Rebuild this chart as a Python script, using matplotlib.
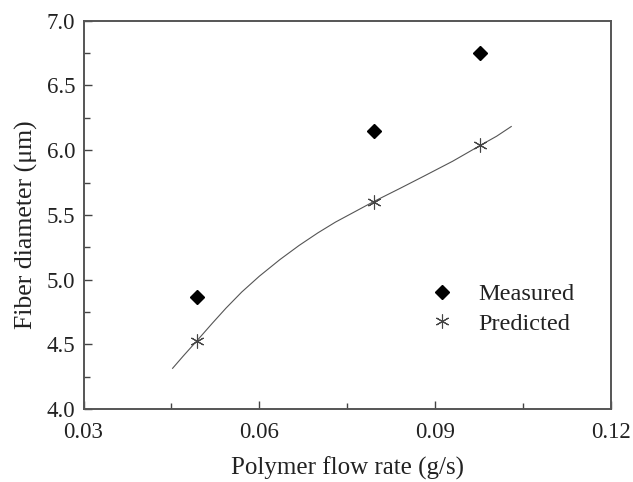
import numpy as np
import matplotlib.pyplot as plt
from matplotlib.ticker import MultipleLocator

plt.rcParams['font.family'] = ['Liberation Serif', 'DejaVu Serif']

# data
flow_rate = [0.0493, 0.0795, 0.0977]
measured = [4.87, 6.145, 6.748]
predicted = [4.526, 5.603, 6.037]

# the fitted curve, read point by point
curve_x = [0.0452, 0.0470, 0.0493, 0.0520, 0.0543, 0.0570, 0.0600, 0.0635,
           0.0668, 0.0700, 0.0730, 0.0765, 0.0795, 0.0840, 0.0881, 0.0930,
           0.0977, 0.1005, 0.1030]
curve_y = [4.316, 4.410, 4.526, 4.665, 4.780, 4.905, 5.027, 5.155,
           5.265, 5.362, 5.445, 5.530, 5.603, 5.705, 5.800, 5.915,
           6.037, 6.108, 6.183]

fig = plt.figure(figsize=(6.33, 4.82), dpi=100)
ax = fig.add_axes([0.132, 0.151, 0.833, 0.806])

ax.plot(curve_x, curve_y, color='#555555', linewidth=0.8)
ax.plot(flow_rate, measured, linestyle='none', marker='D', markersize=7.5,
        color='black', label='Measured')
ax.plot(flow_rate, predicted, linestyle='none', marker=(6, 2, 0), markersize=10,
        color='#444444', markeredgewidth=0.8, label='Predicted')

ax.set_xlim(0.03, 0.12)
ax.set_ylim(4.0, 7.0)
ax.xaxis.set_major_locator(MultipleLocator(0.03))
ax.xaxis.set_minor_locator(MultipleLocator(0.015))
ax.yaxis.set_major_locator(MultipleLocator(0.5))
ax.yaxis.set_minor_locator(MultipleLocator(0.25))
ax.xaxis.set_major_formatter(plt.FuncFormatter(lambda v, p: '%.2f' % v))
ax.yaxis.set_major_formatter(plt.FuncFormatter(lambda v, p: '%.1f' % v))

ax.tick_params(which='both', direction='in', colors='#444444', labelcolor='#222222',
               labelsize=16.5, width=1.0)
ax.tick_params(which='major', length=6)
ax.tick_params(which='minor', length=4)
ax.tick_params(axis='y', pad=6)
ax.tick_params(axis='x', pad=9)
for s in ax.spines.values():
    s.set_color('#555555')
    s.set_linewidth(1.4)

ax.set_xlabel('Polymer flow rate (g/s)', fontsize=18, color='#222222', labelpad=10)
ax.set_ylabel('Fiber diameter (\u03bcm)', fontsize=18.5, color='#222222')
ax.yaxis.set_label_coords(-0.087, 0.475)

ax.legend(loc='upper left', bbox_to_anchor=(0.61, 0.38), frameon=False,
          fontsize=17.5, handlelength=1.2, handletextpad=0.9, labelspacing=0.3,
          labelcolor='#222222')

fig.savefig('out.png', dpi=100)
